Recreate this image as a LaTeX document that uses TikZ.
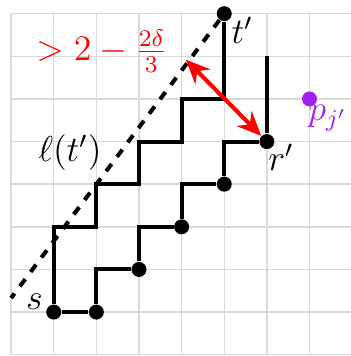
\documentclass[tikz,border=0pt]{standalone}
\usepackage{amsmath}
\usepackage{xcolor}
\usetikzlibrary{positioning, arrows.meta}
\definecolor{pjviolet}{RGB}{160,32,240}

\begin{document}
\begin{tikzpicture}[
x=0.5cm, y=0.5cm,
dot/.style={circle, fill=black, inner sep=0pt, minimum size=5pt},
stair/.style={line width=1.35pt},
lbl/.style={font=\large, inner sep=0pt},
gaparrow/.style={red, line width=1.35pt, {Stealth[length=8pt,width=7pt]}-{Stealth[length=8pt,width=7pt]}},
]
\useasboundingbox (-1.26,-1.03) rectangle (6.95,7.32);

% Grid
\draw[gray!30, line width=0.5pt, step=0.5cm] (-1,-1) grid (7,7);

% Points
\node[dot] (s) at (0,0) {};
\node[dot] (b) at (1,0) {};
\node[dot] (d1) at (2,1) {};
\node[dot] (d2) at (3,2) {};
\node[dot] (d3) at (4,3) {};
\node[dot] (rp) at (5,4) {};
\node[dot] (tp) at (4,7) {};
\node[dot, fill=pjviolet] (pj) at (6,5) {};
\coordinate (rtop) at (5,6);
\coordinate (lend) at (-1,0.33);
\coordinate (foot) at (3.1,5.92);

% Staircases
\draw[stair] (s) -- (b);
\draw[stair] (s) |- (1,2) |- (2,3) |- (3,4) |- (4,5) -- (tp);
\draw[stair] (b) |- (d1) |- (d2) |- (d3) |- (rp) -- (rtop);

% Line l(t') and gap
\draw[stair, dashed] (tp) -- (lend);
\draw[gaparrow] (foot) -- (rp);

% Labels
\node[lbl, red] (gap) at (1.13,6.12) {$>2-\frac{2\delta}{3}$};
\node[lbl] (ell) at (0.38,3.75) {$\ell(t')$};
\node[lbl] (tlab) at (4.42,6.6) {$t'$};
\node[lbl] (rlab) at (5.33,3.62) {$r'$};
\node[lbl] (slab) at (-0.45,0.24) {$s$};
\node[lbl, pjviolet] (pjlab) at (6.43,4.55) {$p_{j'}$};

\end{tikzpicture}
\end{document}
